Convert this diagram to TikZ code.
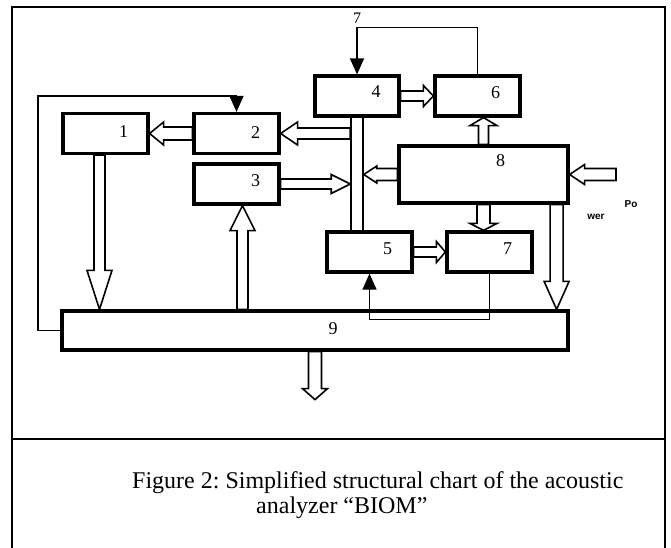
\documentclass[tikz,border=0pt]{standalone}
\usepackage{fontspec}
\setmainfont{Liberation Serif}
\setsansfont{Liberation Sans}
\usetikzlibrary{calc,arrows.meta,backgrounds}

\tikzset{
	box/.style={draw, line width=3.2pt, fill=white, minimum width=85pt, minimum height=40pt, inner sep=0pt},
	num/.style={font=\fontsize{18}{18}\selectfont, inner sep=0pt},
	captext/.style={font=\fontsize{24}{28}\selectfont\frenchspacing, inner sep=0pt},
	pwr/.style={font=\sffamily\bfseries\fontsize{10}{10}\selectfont, inner sep=0pt},
	fb/.style={line width=1.3pt, -{Triangle[length=16pt,width=14pt]}},
	% block arrow: shaft half width, head half width, head length
	hollow/.style n args={3}{draw, fill=white, line width=1.6pt,
		to path={let \p1=($(\tikztotarget)!#3!(\tikztostart)$) in
			($(\tikztostart)!#1!90:(\tikztotarget)$) -- ($(\p1)!#1!90:(\tikztotarget)$)
			-- ($(\p1)!#2!90:(\tikztotarget)$) -- (\tikztotarget)
			-- ($(\p1)!#2!-90:(\tikztotarget)$) -- ($(\p1)!#1!-90:(\tikztotarget)$)
			-- ($(\tikztostart)!#1!-90:(\tikztotarget)$) -- cycle}}
}

\begin{document}
\begin{tikzpicture}[x=1pt, y=-1pt]
	\useasboundingbox (0,0) rectangle (671,548);
	% frame
	\draw[line width=2pt] (12,548) -- (12,7) -- (665,7) -- (665,548);
	\draw[line width=2pt] (12,439) -- (665,439);

	% bus
	\node[draw, line width=1.5pt, fill=white, minimum width=12pt, minimum height=116pt, inner sep=0pt] (bus) at (357,174) {};

	% blocks
	\node[box] (n1) at (105.5,133.5) {};
	\node[box] (n2) at (236.5,133.5) {};
	\node[box] (n3) at (236.5,184) {};
	\node[box, minimum width=84pt] (n4) at (357,96) {};
	\node[box] (n6) at (477.5,96) {};
	\node[box, minimum width=169pt, minimum height=57pt] (n8) at (483.5,174.5) {};
	\node[box] (n5) at (369.5,252) {};
	\node[box] (n7) at (489.5,252) {};
	\node[box, minimum width=506pt, minimum height=39pt] (n9) at (315,330.5) {};

	\node[num] (l1) at ([xshift=18pt,yshift=2pt]n1.center) {1};
	\node[num] (l2) at ([xshift=19pt,yshift=1pt]n2.center) {2};
	\node[num] (l3) at ([xshift=19pt,yshift=3pt]n3.center) {3};
	\node[num] (l4) at ([xshift=19pt,yshift=4pt]n4.center) {4};
	\node[num] (l6) at ([xshift=18pt,yshift=3pt]n6.center) {6};
	\node[num] (l8) at ([xshift=17pt,yshift=14pt]n8.center) {8};
	\node[num] (l5) at ([xshift=18pt,yshift=3pt]n5.center) {5};
	\node[num] (l7) at ([xshift=18pt,yshift=3pt]n7.center) {7};
	\node[num] (l9) at ([xshift=18pt,yshift=2pt]n9.center) {9};
	\node[num, font=\fontsize{16}{16}\selectfont] (t7) at (357,18) {7};

	\coordinate (pw) at (616,174.5);
	\coordinate (a1) at ([xshift=-6pt]n1.south);
	\coordinate (a3) at ([xshift=6pt]n3.south);
	\coordinate (a8) at ([xshift=-13pt]n8.south east);
	\coordinate (out) at ([yshift=-48pt]n9.south);

	\begin{scope}[on background layer]
		\draw[hollow={5.5pt}{11.5pt}{17pt}] (bus.west |- n2.east) to (n2.east);
		\draw[hollow={6.5pt}{11.5pt}{14pt}] (n2.west) to (n1.east);
		\draw[hollow={5pt}{9.5pt}{19pt}] (n3.east) to (bus.west |- n3.east);
		\draw[hollow={6pt}{8.5pt}{13pt}] (n8.west) to (bus.east |- n8.west);
		\draw[hollow={6pt}{10pt}{15pt}] (pw) to (n8.east);
		\draw[hollow={5pt}{10.5pt}{10pt}] (n4.east) to (n6.west);
		\draw[hollow={5pt}{13.5pt}{8pt}] (n8.north) to (n6.south -| n8.north);
		\draw[hollow={6.5pt}{13.5pt}{7pt}] (n8.south) to (n7.north -| n8.south);
		\draw[hollow={5pt}{10.5pt}{9pt}] (n5.east) to (n7.west);
		\draw[hollow={5.5pt}{12.5pt}{39pt}] (a1) to (a1 |- n9.north);
		\draw[hollow={5.5pt}{12.5pt}{25pt}] (a3 |- n9.north) to (a3);
		\draw[hollow={6.5pt}{12.5pt}{28pt}] (a8) to (a8 |- n9.north);
		\draw[hollow={6.5pt}{12.5pt}{11pt}] (n9.south) to (out);

		% feedback lines
		\draw[fb] (n6.north) -- ++(0,-47) -| (n4.north);
		\draw[fb] (n9.west) -| (38,96) -| (n2.north);
	\end{scope}
	% this one runs across block 9
	\draw[fb] (n7.south) -- ++(0,46) -| (n5.south);

	\node[pwr] (po) at (631,204) {Po};
	\node[pwr] (wer) at (596,217) {wer};

	% caption
	\node[captext, anchor=base west] (cap1) at (132,488) {Figure 2: Simplified structural chart of the acoustic};
	\node[captext, anchor=base west] (cap2) at (256,513) {analyzer “BIOM”};
\end{tikzpicture}
\end{document}
